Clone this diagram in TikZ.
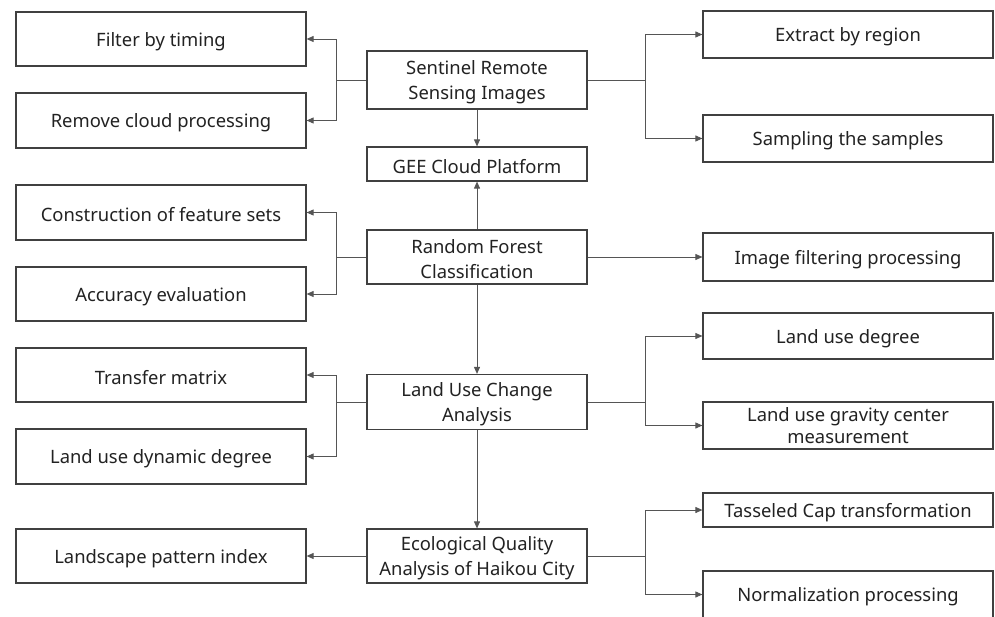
\documentclass[tikz,border=0pt]{standalone}
\usepackage{fontspec}
\setmainfont{Noto Sans}
\usetikzlibrary{arrows.meta}
\definecolor{boxline}{HTML}{404040}
\definecolor{conn}{HTML}{555555}
\definecolor{txt}{HTML}{222222}
\begin{document}
\begin{tikzpicture}[x=1pt,y=-1pt,
  txtlbl/.style={text=txt,inner sep=0pt,align=center,yshift=-2.5pt,
    font=\fontsize{18.4}{25}\selectfont},
  tightlbl/.style={txtlbl,yshift=2.2pt,font=\fontsize{18.4}{22.5}\selectfont},
  frame/.style={draw=boxline,line width=1.2pt,fill=white,inner sep=0pt},
  box/.style={frame,label={[txtlbl]center:#1}},
  lbox/.style={box={#1},minimum width=290pt},
  cbox/.style={box={#1},minimum width=220pt},
  rbox/.style={box={#1},minimum width=290pt},
  rtbox/.style={frame,minimum width=290pt,label={[tightlbl]center:#1}},
  conn/.style={draw=conn,line width=0.9pt},
  arr/.style={conn,-{Triangle[length=7pt,width=6pt]}}]
\useasboundingbox (0,0) rectangle (995,617);
\clip (0,0) rectangle (995,617);
% left column
\node[lbox={Filter by timing},minimum height=54pt] (l1) at (161,39) {};
\node[lbox={Remove cloud processing},minimum height=55pt] (l2) at (161,120.5) {};
\node[lbox={Construction of feature sets},minimum height=55pt] (l3) at (161,212.5) {};
\node[lbox={Accuracy evaluation},minimum height=54pt] (l4) at (161,294) {};
\node[lbox={Transfer matrix},minimum height=54pt] (l5) at (161,375) {};
\node[lbox={Land use dynamic degree},minimum height=55pt] (l6) at (161,456.5) {};
\node[lbox={Landscape pattern index},minimum height=54pt] (l7) at (161,556) {};
% center column
\node[cbox={Sentinel Remote\\Sensing Images},minimum height=58pt] (c1) at (477,80) {};
\node[cbox={GEE Cloud Platform},minimum height=34pt] (c2) at (477,164) {};
\node[cbox={Random Forest\\Classification},minimum height=54pt] (c3) at (477,257) {};
\node[cbox={Land Use Change\\Analysis},minimum height=55pt] (c4) at (477,402) {};
\node[cbox={Ecological Quality\\Analysis of Haikou City},minimum height=54pt] (c5) at (477,556) {};
% right column
\node[rbox={Extract by region},minimum height=47pt] (r1) at (848,34.5) {};
\node[rbox={Sampling the samples},minimum height=47pt] (r2) at (848,138.5) {};
\node[rbox={Image filtering processing},minimum height=48pt] (r3) at (848,257) {};
\node[rbox={Land use degree},minimum height=46pt] (r4) at (848,336) {};
\node[rtbox={Land use gravity center\\measurement},minimum height=47pt] (r5) at (848,425.5) {};
\node[rbox={Tasseled Cap transformation},minimum height=34pt] (r6) at (848,510) {};
\node[rbox={Normalization processing},minimum height=47pt] (r7) at (848,594.5) {};
% bus coordinates
\coordinate (lb1) at (336,80);
\coordinate (lb2) at (336,257);
\coordinate (lb3) at (336,402);
\coordinate (rb1) at (645,80);
\coordinate (rb4) at (645,402);
\coordinate (rb5) at (645,556);
% vertical flow
\draw[arr] (c1.south) -- (c2.north);
\draw[arr] (c3.north) -- (c2.south);
\draw[arr] (c3.south) -- (c4.north);
\draw[arr] (c4.south) -- (c5.north);
% left branches
\draw[conn] (c1.west) -- (lb1);
\draw[arr] (lb1) |- (l1.east);
\draw[arr] (lb1) |- (l2.east);
\draw[conn] (c3.west) -- (lb2);
\draw[arr] (lb2) |- (l3.east);
\draw[arr] (lb2) |- (l4.east);
\draw[conn] (c4.west) -- (lb3);
\draw[arr] (lb3) |- (l5.east);
\draw[arr] (lb3) |- (l6.east);
\draw[arr] (c5.west) -- (l7.east);
% right branches
\draw[conn] (c1.east) -- (rb1);
\draw[arr] (rb1) |- (r1.west);
\draw[arr] (rb1) |- (r2.west);
\draw[arr] (c3.east) -- (r3.west);
\draw[conn] (c4.east) -- (rb4);
\draw[arr] (rb4) |- (r4.west);
\draw[arr] (rb4) |- (r5.west);
\draw[conn] (c5.east) -- (rb5);
\draw[arr] (rb5) |- (r6.west);
\draw[arr] (rb5) |- (r7.west);
\end{tikzpicture}
\end{document}
